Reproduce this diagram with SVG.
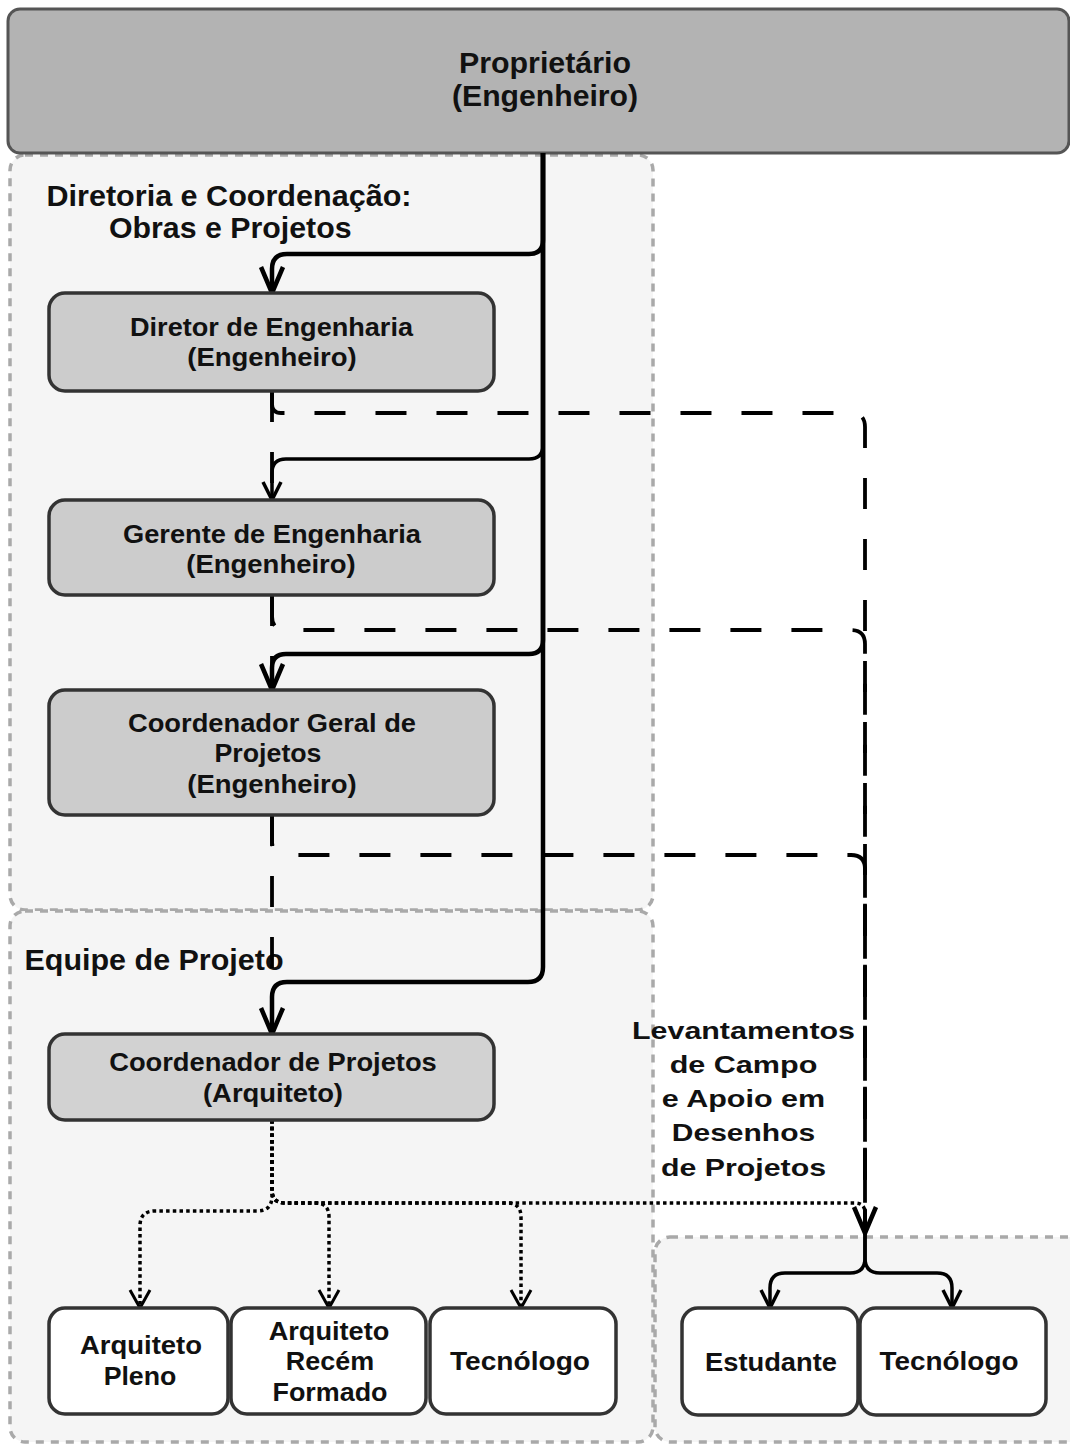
<svg xmlns="http://www.w3.org/2000/svg" width="1070" height="1444" viewBox="0 0 1070 1444">
  <style>
    .grp { fill: #f5f5f5; stroke: #a9a9a9; stroke-width: 3.5; stroke-dasharray: 8 7; }
    .top { fill: #b3b3b3; stroke: #555555; stroke-width: 3; }
    .role { fill: #cccccc; stroke: #333333; stroke-width: 3.5; }
    .leaf { fill: #ffffff; stroke: #333333; stroke-width: 3.5; }
    text { font-family: "Liberation Sans", Arial, sans-serif; font-weight: bold; fill: #111111; }
    .t28 { font-size: 29px; text-anchor: middle; }
    .t26 { font-size: 26.5px; text-anchor: middle; }
    .lbl { font-size: 29px; }
    .side { font-size: 24.5px; text-anchor: middle; }
    .solid { fill: none; stroke: #000; stroke-width: 4.5; }
    .thin { fill: none; stroke: #000; stroke-width: 3.5; }
    .dash { fill: none; stroke: #000; stroke-width: 3.8; stroke-dasharray: 31 30; }
    .dot { fill: none; stroke: #000; stroke-width: 3.5; stroke-dasharray: 3.5 3.2; }
  </style>
  <defs>
    <marker id="arrowBig" markerUnits="userSpaceOnUse" viewBox="-32 -16 40 32" markerWidth="40" markerHeight="32" refX="0" refY="0" orient="auto">
      <path d="M-26,-11 L0,0 L-26,11" fill="none" stroke="#000" stroke-width="4.5" stroke-linejoin="round"/>
    </marker>
    <marker id="arrowSmall" markerUnits="userSpaceOnUse" viewBox="-24 -12 30 24" markerWidth="30" markerHeight="24" refX="0" refY="0" orient="auto">
      <path d="M-18,-9 L0,0 L-18,9" fill="none" stroke="#000" stroke-width="3.5" stroke-linejoin="round"/>
    </marker>
    <marker id="arrowDot" markerUnits="userSpaceOnUse" viewBox="-24 -14 30 28" markerWidth="30" markerHeight="28" refX="0" refY="0" orient="auto">
      <path d="M-18,-10 L0,0 L-18,10" fill="none" stroke="#000" stroke-width="3" stroke-linejoin="round"/>
    </marker>
  </defs>

  <!-- swimlane containers -->
  <g id="grp-diretoria">
    <rect class="grp" x="10" y="155" width="643" height="755" rx="15"/>
    <text class="lbl" x="46.5" y="206" textLength="365" lengthAdjust="spacingAndGlyphs">Diretoria e Coordenação:</text>
    <text class="lbl" x="109" y="238" textLength="242.5" lengthAdjust="spacingAndGlyphs">Obras e Projetos</text>
  </g>
  <g id="grp-equipe">
    <rect class="grp" x="10" y="911" width="643" height="531" rx="15"/>
    <text class="lbl" x="24.5" y="969.5" font-size="27.5" textLength="259" lengthAdjust="spacingAndGlyphs">Equipe de Projeto</text>
  </g>
  <g id="grp-apoio">
    <rect class="grp" x="655" y="1237" width="440" height="205" rx="15"/>
  </g>

  <!-- top node -->
  <g id="proprietario">
    <rect class="top" x="8" y="9" width="1061" height="144" rx="12"/>
    <text class="t28" x="545" y="73" textLength="172" lengthAdjust="spacingAndGlyphs">Proprietário</text>
    <text class="t28" x="545" y="106" textLength="186" lengthAdjust="spacingAndGlyphs">(Engenheiro)</text>
  </g>

  <!-- side label -->
  <g id="label-apoio">
    <text class="side" x="743.5" y="1038.5" textLength="223" lengthAdjust="spacingAndGlyphs">Levantamentos</text>
    <text class="side" x="743.5" y="1073" textLength="147.7" lengthAdjust="spacingAndGlyphs">de Campo</text>
    <text class="side" x="743.5" y="1107" textLength="163.3" lengthAdjust="spacingAndGlyphs">e Apoio em</text>
    <text class="side" x="743.5" y="1141" textLength="143.3" lengthAdjust="spacingAndGlyphs">Desenhos</text>
    <text class="side" x="743.5" y="1175.5" textLength="165" lengthAdjust="spacingAndGlyphs">de Projetos</text>
  </g>

  <!-- connectors -->
  <g id="connectors">
    <!-- dashed: straight down between stacked roles -->
    <path class="dash" d="M272,391 V500"/>
    <path class="dash" d="M272,595 V690"/>
    <path class="dash" d="M272,815 V1034"/>
    <!-- dashed: each role to the support team -->
    <path class="dash" d="M272,391 V404 Q272,413 281,413 H851 Q865,413 865,427 V1233"/>
    <path class="dash" d="M272,595 V616 Q272,630 286,630 H851 Q865,630 865,644 V1233"/>
    <path class="dash" d="M272,815 V841 Q272,855 286,855 H851 Q865,855 865,869 V1233"/>

    <!-- solid: owner trunk to each role -->
    <path class="solid" d="M543,153 V240 Q543,254 529,254 H287 Q272,254 272,269 V293" marker-end="url(#arrowBig)"/>
    <path class="thin" d="M543,153 V445 Q543,459 529,459 H286 Q272,459 272,473 V500" marker-end="url(#arrowSmall)"/>
    <path class="solid" d="M543,153 V640 Q543,654 529,654 H286 Q272,654 272,668 V690" marker-end="url(#arrowBig)"/>
    <path class="solid" d="M543,153 V967 Q543,982 528,982 H287 Q272,982 272,997 V1034" marker-end="url(#arrowBig)"/>

    <!-- dotted: project coordinator to team -->
    <path class="dot" d="M272,1120 V1196 Q272,1211 257,1211 H155 Q140,1211 140,1226 V1308" marker-end="url(#arrowDot)"/>
    <path class="dot" d="M272,1120 V1190 Q272,1203 285,1203 H315 Q329,1203 329,1217 V1308" marker-end="url(#arrowDot)"/>
    <path class="dot" d="M272,1120 V1190 Q272,1203 285,1203 H507 Q521,1203 521,1217 V1308" marker-end="url(#arrowDot)"/>
    <path class="dot" d="M272,1120 V1190 Q272,1203 285,1203 H855 Q865,1203 865,1213 V1233" marker-end="url(#arrowBig)"/>

    <!-- solid: support team split -->
    <path class="thin" d="M865,1233 V1258 Q865,1273 850,1273 H785 Q770,1273 770,1288 V1308" marker-end="url(#arrowSmall)"/>
    <path class="thin" d="M865,1233 V1258 Q865,1273 880,1273 H937 Q952,1273 952,1288 V1308" marker-end="url(#arrowSmall)"/>
  </g>

  <!-- role nodes -->
  <g id="diretor">
    <rect class="role" x="49" y="293" width="445" height="98" rx="16"/>
    <text class="t26" x="271.5" y="336" textLength="283" lengthAdjust="spacingAndGlyphs">Diretor de Engenharia</text>
    <text class="t26" x="272" y="366" textLength="169.5" lengthAdjust="spacingAndGlyphs">(Engenheiro)</text>
  </g>
  <g id="gerente">
    <rect class="role" x="49" y="500" width="445" height="95" rx="16"/>
    <text class="t26" x="272" y="543" textLength="298" lengthAdjust="spacingAndGlyphs">Gerente de Engenharia</text>
    <text class="t26" x="271" y="573" textLength="169.5" lengthAdjust="spacingAndGlyphs">(Engenheiro)</text>
  </g>
  <g id="coord-geral">
    <rect class="role" x="49" y="690" width="445" height="125" rx="16"/>
    <text class="t26" x="272" y="731.5" textLength="288" lengthAdjust="spacingAndGlyphs">Coordenador Geral de</text>
    <text class="t26" x="268" y="762" textLength="107" lengthAdjust="spacingAndGlyphs">Projetos</text>
    <text class="t26" x="272" y="793" textLength="169.5" lengthAdjust="spacingAndGlyphs">(Engenheiro)</text>
  </g>
  <g id="coord-projetos">
    <rect class="role" x="49" y="1034" width="445" height="86" rx="16" style="fill:#d2d2d2"/>
    <text class="t26" x="273" y="1070.5" textLength="327.6" lengthAdjust="spacingAndGlyphs">Coordenador de Projetos</text>
    <text class="t26" x="273" y="1101.5" textLength="140" lengthAdjust="spacingAndGlyphs">(Arquiteto)</text>
  </g>

  <!-- team nodes -->
  <g id="arquiteto-pleno">
    <rect class="leaf" x="49" y="1308" width="179" height="106" rx="16"/>
    <text class="t26" x="141" y="1354" textLength="122" lengthAdjust="spacingAndGlyphs">Arquiteto</text>
    <text class="t26" x="140" y="1385" textLength="72.7" lengthAdjust="spacingAndGlyphs">Pleno</text>
  </g>
  <g id="arquiteto-recem">
    <rect class="leaf" x="231" y="1308" width="195" height="106" rx="16"/>
    <text class="t26" x="329" y="1340" textLength="120.6" lengthAdjust="spacingAndGlyphs">Arquiteto</text>
    <text class="t26" x="330" y="1370" textLength="88.3" lengthAdjust="spacingAndGlyphs">Recém</text>
    <text class="t26" x="330" y="1400.5" textLength="115" lengthAdjust="spacingAndGlyphs">Formado</text>
  </g>
  <g id="tecnologo-projeto">
    <rect class="leaf" x="430" y="1308" width="186" height="106" rx="16"/>
    <text class="t26" x="520" y="1370" textLength="140" lengthAdjust="spacingAndGlyphs">Tecnólogo</text>
  </g>
  <g id="estudante">
    <rect class="leaf" x="682" y="1308" width="176" height="107" rx="16"/>
    <text class="t26" x="771" y="1370.5" textLength="132" lengthAdjust="spacingAndGlyphs">Estudante</text>
  </g>
  <g id="tecnologo-apoio">
    <rect class="leaf" x="860" y="1308" width="186" height="107" rx="16"/>
    <text class="t26" x="949" y="1370" textLength="139" lengthAdjust="spacingAndGlyphs">Tecnólogo</text>
  </g>
</svg>
